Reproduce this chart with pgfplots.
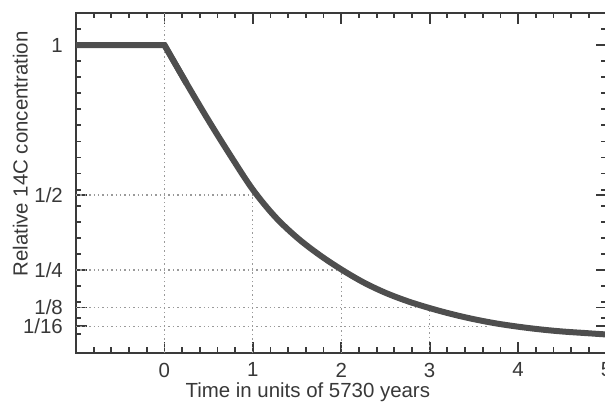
\documentclass[border=0pt]{standalone}
\usepackage{pgfplots}
\pgfplotsset{compat=1.18}
\usepackage{fontspec}
\setmainfont{Liberation Sans}
\definecolor{curvec}{HTML}{4E4E4E}
\definecolor{axc}{HTML}{3A3A3A}
\definecolor{gridc}{HTML}{9A9A9A}
\definecolor{txtc}{HTML}{383838}
\begin{document}
\begin{tikzpicture}
\begin{axis}[
  scale only axis,
  width=530.5bp, height=339.7bp,
  xmin=-1, xmax=5, ymin=-0.0257, ymax=1.1067,
  axis line style={axc, line width=2bp},
  every tick/.style={axc, line width=1.8bp},
  major tick length=11bp, minor tick length=5.5bp,
  tick align=inside,
  xtick={0,1,2,3,4,5},
  xticklabels={0,1,2,3,4,5},
  minor xtick={-0.8,-0.6,-0.4,-0.2,0.2,0.4,0.6,0.8,1.2,1.4,1.6,1.8,2.2,2.4,2.6,2.8,3.2,3.4,3.6,3.8,4.2,4.4,4.6,4.8},
  ytick={0.0625,0.125,0.25,0.5,1},
  yticklabels={1/16,1/8,1/4,1/2,1},
  minor ytick={0.0357,0.0893,0.1429,0.1964,0.3036,0.3571,0.4107,0.4643,0.5179,0.5714,0.6250,0.6786,0.7321,0.7857,0.8393,0.8929,0.9464,1.0536},
  font=\fontsize{20.5}{24}\selectfont,
  ticklabel style={text=txtc, font=\fontsize{20.5}{24}\selectfont},
  yticklabel style={anchor=east, inner sep=0pt, xshift=-13bp},
  xticklabel style={anchor=north, inner sep=0pt, yshift=-10bp},
  xlabel={Time in units of 5730 years},
  ylabel={Relative 14C concentration},
  label style={text=txtc, font=\fontsize{20.5}{24}\selectfont},
  xlabel style={at={(axis description cs:0.437,0)}, anchor=base, inner sep=0pt, yshift=-44.8bp},
  ylabel style={at={(axis description cs:-0.0914,0.585)}, anchor=base, inner sep=0pt},
  clip=true,
  no markers,
]
% dotted guide lines
\addplot[gridc, line width=1.2bp, dash pattern=on 1.4bp off 3bp] coordinates {(0,-0.0257) (0,1.1067)};
\addplot[gridc, line width=1.2bp, dash pattern=on 1.4bp off 3bp] coordinates {(-1,0.5) (1.05,0.5)};
\addplot[gridc, line width=1.2bp, dash pattern=on 1.4bp off 3bp] coordinates {(1,-0.0257) (1,0.518)};
\addplot[gridc, line width=1.2bp, dash pattern=on 1.4bp off 3bp] coordinates {(-1,0.25) (2,0.25) (2,-0.0257)};
\addplot[gridc, line width=1.2bp, dash pattern=on 1.4bp off 3bp] coordinates {(-1,0.125) (3,0.125) (3,-0.0257)};
\addplot[gridc, line width=1.2bp, dash pattern=on 1.4bp off 3bp] coordinates {(-1,0.0625) (3.65,0.0625)};
% concentration curve
\addplot[curvec, line width=6bp, line join=miter] coordinates {(-1,1) (0,1) (0.25,0.872)};
\addplot[curvec, line width=6bp, smooth, tension=0.55] coordinates {
 (0,1) (0.25,0.872) (0.5,0.748) (0.75,0.63) (1,0.518) (1.25,0.428) (1.5,0.358)
 (1.75,0.301) (2,0.252) (2.25,0.209) (2.5,0.174) (2.75,0.146) (3,0.123)
 (3.25,0.103) (3.5,0.086) (3.75,0.072) (4,0.061) (4.25,0.052) (4.5,0.045)
 (4.75,0.040) (5,0.035)};
\end{axis}
\pgfresetboundingbox
\path[use as bounding box] ([shift={(-76bp,-49.3bp)}]current axis.south west) rectangle ([shift={(529bp,352.7bp)}]current axis.south west);
\end{tikzpicture}
\end{document}
